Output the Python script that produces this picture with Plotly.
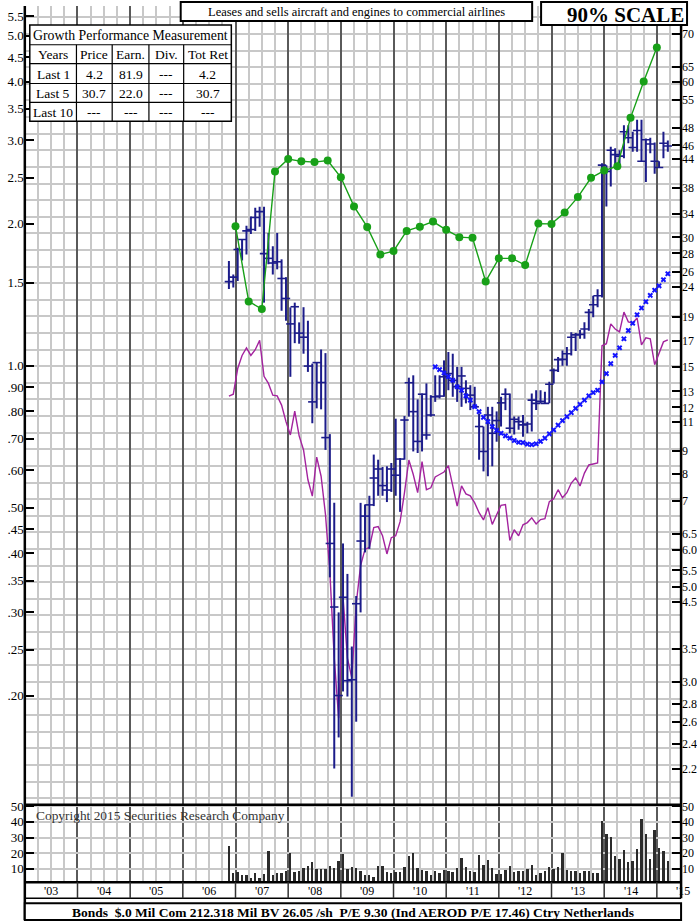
import plotly.graph_objects as go

W, H = 697, 924
SERIF = "Liberation Serif"
NAVY = "#1c1c8a"
MAGENTA = "#a3239e"
GREEN = "#18a018"
XBLUE = "#1414ff"
GRID = "#c8c8c8"
YEARLINE = "#5a5a5a"

# ---------------- data ----------------
FIRST_YEAR, FIRST_MONTH = 2006, 11          # first monthly bar: Nov 2006

high = [
    1.666, 1.56,                                                                     # 2006
    1.777, 1.851, 1.98, 2.07, 2.16, 2.17, 2.17, 1.91, 1.79, 1.91, 1.68, 1.54,        # 2007
    1.329, 1.36, 1.235, 1.33, 1.245, 1.01, 1.018, 1.082, 1.063, 0.716, 0.512, 0.30,  # 2008
    0.42, 0.362, 0.254, 0.325, 0.512, 0.508, 0.53, 0.648, 0.632, 0.61, 0.612, 0.622, # 2009
    0.772, 0.637, 0.782, 0.943, 0.954, 0.848, 0.873, 0.917, 0.866, 0.954, 0.954, 1.026,  # 2010
    1.069, 1.06, 0.994, 0.994, 0.931, 0.909, 0.902, 0.792, 0.743, 0.818, 0.818, 0.80,    # 2011
    0.859, 0.895, 0.873, 0.78, 0.78, 0.786, 0.761, 0.873, 0.887, 0.887, 0.88, 0.924,     # 2012
    0.986, 1.043, 1.077, 1.095, 1.177, 1.172, 1.19, 1.236, 1.318, 1.406, 1.452, 2.685,   # 2013
    2.66, 2.91, 2.89, 2.86, 3.23, 3.23, 3.13, 3.32, 3.32, 3.03, 3.04, 2.97,              # 2014
    2.71, 3.13, 3.0,                                                                     # 2015
]
low = [
    1.453, 1.465,
    1.512, 1.67, 1.72, 1.90, 1.93, 1.97, 1.36, 1.64, 1.56, 1.60, 1.307, 1.245,
    0.947, 1.116, 1.113, 1.06, 0.97, 0.755, 0.812, 0.808, 0.663, 0.356, 0.14, 0.163,
    0.204, 0.199, 0.122, 0.176, 0.30, 0.402, 0.409, 0.504, 0.53, 0.53, 0.514, 0.54,
    0.53, 0.49, 0.632, 0.78, 0.658, 0.653, 0.658, 0.697, 0.78, 0.838, 0.852, 0.859,
    0.887, 0.859, 0.838, 0.818, 0.832, 0.805, 0.812, 0.632, 0.597, 0.583, 0.612, 0.69,
    0.743, 0.805, 0.719, 0.715, 0.731, 0.707, 0.719, 0.725, 0.805, 0.832, 0.83, 0.832,
    0.917, 0.97, 1.0, 1.0, 1.051, 1.074, 1.14, 1.14, 1.186, 1.266, 1.329, 1.395,
    2.174, 2.398, 2.62, 2.64, 2.75, 2.96, 2.84, 2.84, 2.71, 2.45, 2.82, 2.55,
    2.63, 2.75, 2.84,
]
close = [
    1.507, 1.54,
    1.763, 1.85, 1.93, 1.943, 2.06, 2.12, 1.727, 1.688, 1.65, 1.66, 1.53, 1.388,
    1.226, 1.333, 1.172, 1.149, 0.998, 0.838, 1.015, 0.921, 0.704, 0.42, 0.308, 0.20,
    0.323, 0.215, 0.216, 0.313, 0.425, 0.48, 0.507, 0.578, 0.604, 0.557, 0.545, 0.604,
    0.586, 0.634, 0.767, 0.92, 0.799, 0.691, 0.870, 0.713, 0.786, 0.859, 0.862, 0.947,
    0.962, 0.931, 0.902, 0.951, 0.895, 0.866, 0.818, 0.743, 0.658, 0.786, 0.719, 0.765,
    0.834, 0.870, 0.737, 0.77, 0.761, 0.749, 0.752, 0.845, 0.832, 0.84, 0.832, 0.913,
    0.977, 1.03, 1.031, 1.06, 1.149, 1.162, 1.165, 1.196, 1.297, 1.346, 1.406, 2.66,
    2.58, 2.86, 2.80, 2.78, 3.13, 3.04, 2.90, 3.15, 2.71, 3.01, 2.95, 2.71,
    2.63, 2.96, 2.92,
]
rel_strength = [
    0.862, 0.870,
    0.986, 1.051, 1.090, 1.051, 1.081, 1.131, 0.949, 0.917, 0.866, 0.863, 0.825, 0.761,
    0.713, 0.801, 0.710, 0.663, 0.573, 0.529, 0.640, 0.583, 0.484, 0.365, 0.240, 0.179,
    0.323, 0.240, 0.218, 0.313, 0.377, 0.408, 0.412, 0.454, 0.456, 0.436, 0.399, 0.432,
    0.436, 0.467, 0.538, 0.631, 0.588, 0.538, 0.626, 0.546, 0.551, 0.581, 0.588, 0.595,
    0.614, 0.560, 0.504, 0.556, 0.535, 0.530, 0.512, 0.488, 0.471, 0.500, 0.461, 0.483,
    0.506, 0.508, 0.426, 0.449, 0.436, 0.460, 0.465, 0.476, 0.462, 0.472, 0.474, 0.515,
    0.522, 0.546, 0.525, 0.538, 0.564, 0.578, 0.556, 0.592, 0.616, 0.619, 0.622, 1.102,
    1.113, 1.226, 1.196, 1.179, 1.299, 1.238, 1.232, 1.262, 1.107, 1.145, 1.140, 1.005,
    1.065, 1.123, 1.134,
]
volume = [
    24.9, 7.2,
    8.3, 6.4, 6.4, 4.3, 7.5, 4.3, 6.8, 21.7, 6.4, 7.5, 7.2, 8.9,
    20.0, 8.3, 8.5, 10.6, 11.7, 14.7, 10.0, 10.0, 10.0, 11.7, 10.5, 15.3,
    19.5, 10.0, 11.0, 10.6, 8.5, 6.4, 6.4, 5.0, 12.0, 12.0, 7.9, 7.5,
    7.9, 8.3, 11.3, 18.5, 20.2, 10.4, 9.4, 8.9, 6.2, 8.9, 7.2, 9.6,
    8.9, 7.9, 10.4, 16.8, 11.3, 8.5, 7.9, 19.2, 12.6, 15.8, 10.6, 6.8,
    6.8, 9.4, 11.7, 7.9, 8.5, 8.9, 10.0, 12.3, 6.4, 7.2, 8.9, 11.3,
    10.0, 11.0, 20.0, 9.6, 8.5, 8.5, 7.2, 8.5, 8.9, 7.2, 7.2, 40.5,
    32.4, 30.2, 18.5, 16.4, 22.2, 14.3, 14.9, 22.8, 42.0, 32.4, 16.4, 35.1,
    23.4, 21.3, 15.3,
]

MA_YEAR, MA_MONTH = 2010, 10                 # first 'x' point: Oct 2010
moving_avg = [
    0.994, 0.981, 0.965,
    0.948, 0.931, 0.902, 0.887, 0.863, 0.845, 0.819, 0.799, 0.777, 0.761, 0.743, 0.729,
    0.719, 0.710, 0.702, 0.694, 0.688, 0.687, 0.682, 0.680, 0.683, 0.691, 0.702, 0.717,
    0.731, 0.748, 0.765, 0.780, 0.795, 0.812, 0.828, 0.845, 0.863, 0.877, 0.887, 0.924,
    0.962, 1.010, 1.051, 1.091, 1.140, 1.187, 1.230, 1.282, 1.325, 1.366, 1.409, 1.445,
    1.476, 1.521, 1.566,
]

EARN_START = 2007.0                          # quarterly points
earnings = [
    1.975, 1.368, 1.318, 2.58,
    2.74, 2.71, 2.70, 2.72,
    2.507, 2.175, 1.968, 1.72,
    1.749, 1.93, 1.97, 2.02,
    1.94, 1.872, 1.866, 1.508,
    1.688, 1.688, 1.634, 2.0,
    1.997, 2.11, 2.276, 2.50,
    2.59, 2.646, 3.35, 4.0,
    4.72,
]

left_tick_vals = [5.5, 5.0, 4.5, 4.0, 3.5, 3.0, 2.5, 2.0, 1.5, 1.0, 0.9, 0.8, 0.7,
                  0.6, 0.5, 0.45, 0.4, 0.35, 0.3, 0.25, 0.2]
left_tick_text = ["5.5", "5.0", "4.5", "4.0", "3.5", "3.0", "2.5", "2.0", "1.5", "1.0",
                  ".90", ".80", ".70", ".60", ".50", ".45", ".40", ".35", ".30", ".25", ".20"]
right_tick_vals = [5.05, 4.30, 4.00, 3.65, 3.19, 2.93, 2.74, 2.38, 2.10, 1.869, 1.729, 1.58,
                   1.47, 1.27, 1.13, 0.995, 0.8816, 0.8157, 0.7586, 0.659, 0.590, 0.517,
                   0.4406, 0.4077, 0.3684, 0.3393, 0.3154, 0.251, 0.214, 0.192, 0.176,
                   0.158, 0.140]
right_tick_text = ["70", "65", "60", "55", "48", "46", "44", "38", "34", "30", "28", "26",
                   "24", "19", "17", "15", "13", "12", "11", "9", "8", "7", "6.5", "6.0",
                   "5.5", "5.0", "4.5", "3.5", "3.0", "2.8", "2.6", "2.4", "2.2"]
vol_tick_vals = [10, 20, 30, 40, 50]
vol_tick_text = ["10", "20", "30", "40", "50"]
year_starts = list(range(2003, 2016))
year_labels = ["'03", "'04", "'05", "'06", "'07", "'08", "'09", "'10", "'11", "'12",
               "'13", "'14", "'15"]

table_header = "Growth Performance Measurement"
table_rows = [
    ["Years", "Price", "Earn.", "Div.", "Tot Ret"],
    ["Last 1", "4.2", "81.9", "---", "4.2"],
    ["Last 5", "30.7", "22.0", "---", "30.7"],
    ["Last 10", "---", "---", "---", "---"],
]
title_text = "Leases and sells aircraft and engines to commercial airlines"
scale_text = "90% SCALE"
copyright_text = "Copyright 2015 Securities Research Company"
footer_text = ("Bonds  $.0 Mil Com 212.318 Mil BV 26.05 /sh  P/E 9.30 "
               "(Ind AEROD P/E 17.46) Ctry Netherlands")

# ---------------- geometry helpers (layout only) ----------------
def PX(p):
    return p / W


def PY(p):
    return 1 - p / H


X_LEFT_PX, X_RIGHT_PX = 25, 686
PX_PER_YEAR = 53.05
X0 = 2003.0
X1 = 2003.0 + (X_RIGHT_PX - X_LEFT_PX) / PX_PER_YEAR
LOG_LO, LOG_HI = -0.9305, 0.7621          # price panel spans px 804 .. 0
PRICE_TOP, PRICE_BOT = 0, 804
VOL_TOP, VOL_BOT = 804, 882
STRIP_BOT = 898
FOOT_TOP, FOOT_BOT = 903, 920


def year_px(yv):
    return X_LEFT_PX + (yv - X0) * PX_PER_YEAR


n = len(high)
month_x = [FIRST_YEAR + (FIRST_MONTH - 1 + i + 0.5) / 12 for i in range(n)]
ma_off = (MA_YEAR - FIRST_YEAR) * 12 + (MA_MONTH - FIRST_MONTH)
ma_x = month_x[ma_off: ma_off + len(moving_avg)]
earn_x = [EARN_START + 0.25 * i for i in range(len(earnings))]

fig = go.Figure()

# relative strength line
fig.add_trace(go.Scatter(x=month_x, y=rel_strength, mode="lines",
                         line=dict(color=MAGENTA, width=1.4),
                         xaxis="x", yaxis="y", hoverinfo="skip"))
# high-low bars
bx, by = [], []
for xv, hv, lv in zip(month_x, high, low):
    bx += [xv, xv, None]
    by += [lv, hv, None]
fig.add_trace(go.Scatter(x=bx, y=by, mode="lines", line=dict(color=NAVY, width=2),
                         xaxis="x", yaxis="y", hoverinfo="skip", connectgaps=False))
fig.add_trace(go.Scatter(x=month_x, y=close, mode="markers",
                         marker=dict(symbol="line-ew", size=6,
                                     line=dict(color=NAVY, width=1.6)),
                         xaxis="x", yaxis="y", hoverinfo="skip"))
# moving average crosses
fig.add_trace(go.Scatter(x=ma_x, y=moving_avg, mode="markers",
                         marker=dict(symbol="x", size=5, color=XBLUE,
                                     line=dict(width=0)),
                         xaxis="x", yaxis="y", hoverinfo="skip"))
# earnings line
fig.add_trace(go.Scatter(x=earn_x, y=earnings, mode="lines+markers",
                         line=dict(color=GREEN, width=1.4),
                         marker=dict(size=8, color=GREEN),
                         xaxis="x", yaxis="y", hoverinfo="skip"))
# volume
fig.add_trace(go.Bar(x=month_x, y=volume, width=0.036,
                     marker=dict(color="#2b2b2b", line=dict(width=0)),
                     xaxis="x2", yaxis="y2", hoverinfo="skip"))
# dummy traces so the overlay axes are drawn
fig.add_trace(go.Scatter(x=[2003.5], y=[1.0], mode="markers", marker=dict(opacity=0),
                         xaxis="x", yaxis="y3", hoverinfo="skip"))
fig.add_trace(go.Scatter(x=[2003.5], y=[10], mode="markers", marker=dict(opacity=0),
                         xaxis="x2", yaxis="y4", hoverinfo="skip"))

tickfont = dict(family=SERIF, size=13, color="black")
rtickfont = dict(family=SERIF, size=12, color="black")
grid_vals = [0.997 * 10 ** (0.0352 * k) for k in range(-27, 24)]

xcommon = dict(domain=[PX(X_LEFT_PX), PX(X_RIGHT_PX)], range=[X0, X1],
               tickmode="array", tickvals=year_starts, showticklabels=False,
               ticks="", showgrid=True, gridcolor=YEARLINE, gridwidth=2,
               zeroline=False, showline=False,
               minor=dict(tickmode="linear", tick0=2003, dtick=0.25, showgrid=True,
                          gridcolor=GRID, gridwidth=1.5, ticks=""))

fig.update_layout(
    width=W, height=H, margin=dict(l=0, r=0, t=0, b=0),
    paper_bgcolor="white", plot_bgcolor="white", showlegend=False, bargap=0,
    xaxis=dict(anchor="y", **xcommon),
    xaxis2=dict(anchor="y2", **xcommon),
    yaxis=dict(domain=[PY(PRICE_BOT), PY(PRICE_TOP)], anchor="x", type="log",
               range=[LOG_LO, LOG_HI], tickmode="array", tickvals=left_tick_vals,
               ticktext=left_tick_text, ticks="inside", ticklen=9, tickwidth=2,
               tickcolor="black", showgrid=False, zeroline=False, showline=False,
               tickfont=tickfont,
               minor=dict(tickmode="array", tickvals=grid_vals, showgrid=True,
                          gridcolor=GRID, gridwidth=1.5, ticks="")),
    yaxis3=dict(overlaying="y", anchor="x", side="right", type="log",
                range=[LOG_LO, LOG_HI], tickmode="array", tickvals=right_tick_vals,
                ticktext=right_tick_text, ticks="inside", ticklen=9, tickwidth=2,
                tickcolor="black", showgrid=False, zeroline=False, showline=False,
                tickfont=rtickfont),
    yaxis2=dict(domain=[PY(VOL_BOT), PY(VOL_TOP)], anchor="x2", range=[1.3, 51],
                tickmode="array", tickvals=vol_tick_vals, ticktext=vol_tick_text,
                ticks="inside", ticklen=9, tickwidth=2, tickcolor="black",
                showgrid=True, gridcolor=GRID, gridwidth=1.5, zeroline=False,
                showline=False, tickfont=tickfont),
    yaxis4=dict(overlaying="y2", anchor="x2", side="right", range=[1.3, 51],
                tickmode="array", tickvals=vol_tick_vals, ticktext=vol_tick_text,
                ticks="inside", ticklen=9, tickwidth=2, tickcolor="black",
                showgrid=False, zeroline=False, showline=False, tickfont=rtickfont),
)

shapes = []
ann = []


def line(x0, y0, x1, y1, w=2.5, color="black"):
    shapes.append(dict(type="line", xref="paper", yref="paper", x0=PX(x0), y0=PY(y0),
                       x1=PX(x1), y1=PY(y1), line=dict(color=color, width=w),
                       layer="above"))


def rect(x0, y0, x1, y1, w=2, fill="white"):
    shapes.append(dict(type="rect", xref="paper", yref="paper", x0=PX(x0), y0=PY(y0),
                       x1=PX(x1), y1=PY(y1), line=dict(color="black", width=w),
                       fillcolor=fill, layer="above"))


def text(x, y, s, size=13, xanchor="center", yanchor="middle", color="black"):
    ann.append(dict(xref="paper", yref="paper", x=PX(x), y=PY(y), text=s,
                    showarrow=False, xanchor=xanchor, yanchor=yanchor,
                    font=dict(family=SERIF, size=size, color=color), borderpad=0))


# frame
line(X_LEFT_PX, 0, X_LEFT_PX, FOOT_BOT, 2.5)
line(X_RIGHT_PX, 0, X_RIGHT_PX, STRIP_BOT, 2.5)
line(X_LEFT_PX, VOL_TOP, X_RIGHT_PX, VOL_TOP, 2.5)
line(X_LEFT_PX, VOL_BOT, X_RIGHT_PX, VOL_BOT, 2.5)
line(X_LEFT_PX, STRIP_BOT, X_RIGHT_PX, STRIP_BOT, 1.5)
rect(X_LEFT_PX, FOOT_TOP, X_RIGHT_PX, FOOT_BOT, 2)

# year separators in the label strip and year labels
for ys in year_starts[1:]:
    shapes.append(dict(type="line", xref="x", yref="paper", x0=ys, x1=ys,
                       y0=PY(STRIP_BOT), y1=PY(VOL_BOT),
                       line=dict(color="#333", width=1.5), layer="above"))
for ys, lab in zip(year_starts, year_labels):
    text(year_px(ys + 0.5), 890.5, lab, size=12)

# title box and scale box
rect(182, -4, 536, 15, 2)
text(359, 14.5, title_text, size=12.5, yanchor="bottom")
rect(545, -4, 692, 19, 2)
text(630, 9, "<b>%s</b>" % scale_text, size=21)

# growth table
cols = [30, 77, 113, 150, 185, 233]
rows = [19, 39, 58, 78, 97, 116]
rect(cols[0], rows[0], cols[-1], rows[-1], 1.5)
for r in rows[1:-1]:
    line(cols[0], r, cols[-1], r, 1.2)
for c in cols[1:-1]:
    line(c, rows[1], c, rows[-1], 1.2)
text((cols[0] + cols[-1]) / 2, (rows[0] + rows[1]) / 2 + 0.5, table_header, size=13.8)
for ri, row in enumerate(table_rows):
    for ci, cell in enumerate(row):
        text((cols[ci] + cols[ci + 1]) / 2, (rows[ri + 1] + rows[ri + 2]) / 2 + 0.5,
             cell, size=13.5)

# copyright and footer
text(35, 815, copyright_text, size=13.4, xanchor="left", color="#333")
text((X_LEFT_PX + X_RIGHT_PX) / 2, (FOOT_TOP + FOOT_BOT) / 2 + 0.5,
     "<b>%s</b>" % footer_text, size=13.5)

fig.update_layout(shapes=shapes, annotations=ann)
fig.write_html("out.html", config={"displayModeBar": False},
               post_script="document.body.style.margin='0';"
                           "document.body.style.overflow='hidden';")
